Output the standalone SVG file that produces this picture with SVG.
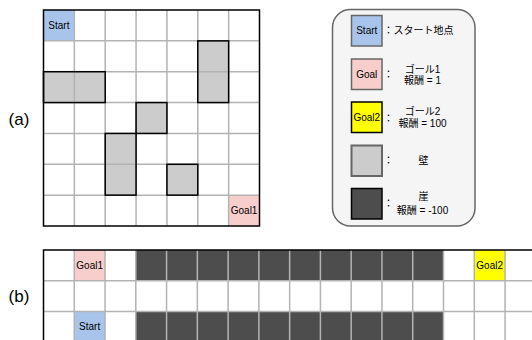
<svg xmlns="http://www.w3.org/2000/svg" width="532" height="340" viewBox="0 0 532 340">
<style>
text{font-family:"Liberation Sans","Noto Sans CJK JP",sans-serif;fill:#000}
.cell{font-size:10px;text-anchor:middle}
.lbl{font-size:17px;text-anchor:middle}
.lg{font-size:10px;text-anchor:middle}
.grid{stroke:#B3B3B3;stroke-width:1.5;fill:none}
.border{stroke:#000;stroke-width:1.5;fill:none}
.wall{fill:#CCCCCC}
.wallb{fill:none;stroke:#000;stroke-width:1.5}
.cliff{fill:#4D4D4D}
</style>
<rect width="532" height="340" fill="#fff"/>

<text class="lbl" x="19" y="125">(a)</text>
<text class="lbl" x="19" y="302">(b)</text>

<g id="gridA">
  <rect x="43.5" y="10" width="216" height="216" fill="#fff"/>
  <g id="a-start"><rect x="43.5" y="10" width="30.86" height="30.86" fill="#A9C4EB"/></g>
  <g id="a-goal1"><rect x="228.64" y="195.14" width="30.86" height="30.86" fill="#F8CECC"/></g>
  <g id="a-walls-fill">
    <rect class="wall" x="197.79" y="40.86" width="30.86" height="61.71"/>
    <rect class="wall" x="43.5" y="71.71" width="61.71" height="30.86"/>
    <rect class="wall" x="136.07" y="102.57" width="30.86" height="30.86"/>
    <rect class="wall" x="105.21" y="133.43" width="30.86" height="61.71"/>
    <rect class="wall" x="166.93" y="164.29" width="30.86" height="30.86"/>
  </g>
  <path class="grid" d="M74.36 10V226M105.21 10V226M136.07 10V226M166.93 10V226M197.79 10V226M228.64 10V226M43.5 40.86H259.5M43.5 71.71H259.5M43.5 102.57H259.5M43.5 133.43H259.5M43.5 164.29H259.5M43.5 195.14H259.5"/>
  <g id="a-walls">
    <rect class="wallb" x="197.79" y="40.86" width="30.86" height="61.71"/>
    <rect class="wallb" x="43.5" y="71.71" width="61.71" height="30.86"/>
    <rect class="wallb" x="136.07" y="102.57" width="30.86" height="30.86"/>
    <rect class="wallb" x="105.21" y="133.43" width="30.86" height="61.71"/>
    <rect class="wallb" x="166.93" y="164.29" width="30.86" height="30.86"/>
  </g>
  <rect class="border" x="43.5" y="10" width="216" height="216"/>
  <text class="cell" x="58.9" y="28.8">Start</text>
  <text class="cell" x="244.1" y="214">Goal1</text>
</g>

<g id="legend">
  <rect x="332.5" y="9.5" width="142.5" height="216.5" rx="18" fill="#F5F5F5" stroke="#666" stroke-width="1.5"/>
  <g id="lg-start">
    <rect x="351.5" y="15.5" width="30.5" height="30.5" fill="#A9C4EB" stroke="#666" stroke-width="1.5"/>
    <text class="lg" x="366.75" y="34.3">Start</text>
    <text x="383.5" y="34.3" font-size="10">：スタート地点</text>
  </g>
  <g id="lg-goal1">
    <rect x="351.5" y="59" width="30.5" height="30.5" fill="#F8CECC" stroke="#666" stroke-width="1.5"/>
    <text class="lg" x="366.75" y="77.8">Goal</text>
    <text x="383.5" y="77.5" font-size="10">：</text>
    <text class="lg" x="422.5" y="72.8">ゴール1</text>
    <text class="lg" x="422.5" y="84.3">報酬 = 1</text>
  </g>
  <g id="lg-goal2">
    <rect x="351.5" y="102" width="30.5" height="30.5" fill="#FFFF00" stroke="#000" stroke-width="1.5"/>
    <text class="lg" x="366.75" y="120.8">Goal2</text>
    <text x="383.5" y="121.5" font-size="10">：</text>
    <text class="lg" x="422.5" y="115.2">ゴール2</text>
    <text class="lg" x="422.5" y="126.8">報酬 = 100</text>
  </g>
  <g id="lg-wall">
    <rect x="351.5" y="145.5" width="30.5" height="30.5" fill="#CCCCCC" stroke="#666" stroke-width="2"/>
    <text x="383.5" y="164" font-size="10">：</text>
    <text class="lg" x="423.5" y="163.5">壁</text>
  </g>
  <g id="lg-cliff">
    <rect x="351.5" y="188.5" width="30.5" height="30.5" fill="#4D4D4D" stroke="#000" stroke-width="1.5"/>
    <text x="383.5" y="207" font-size="10">：</text>
    <text class="lg" x="423.5" y="200.2">崖</text>
    <text class="lg" x="422.5" y="213.5">報酬 = -100</text>
  </g>
</g>

<g id="gridB">
  <rect x="43.5" y="250" width="500" height="100" fill="#fff"/>
  <g id="b-goal1"><rect x="74.27" y="250" width="30.77" height="30.8" fill="#F8CECC"/></g>
  <g id="b-start"><rect x="74.27" y="311.6" width="30.77" height="30.8" fill="#A9C4EB"/></g>
  <g id="b-goal2"><rect x="474.3" y="250" width="30.77" height="30.8" fill="#FFFF00"/></g>
  <g id="b-cliff1"><rect class="cliff" x="135.8" y="250" width="307.7" height="30.8"/></g>
  <g id="b-cliff2"><rect class="cliff" x="135.8" y="311.6" width="307.7" height="30.8"/></g>
  <path class="grid" d="M74.27 250V342M105.04 250V342M135.8 250V342M166.57 250V342M197.34 250V342M228.11 250V342M258.88 250V342M289.65 250V342M320.42 250V342M351.19 250V342M381.96 250V342M412.73 250V342M443.5 250V342M474.3 250V342M505.07 250V342M43.5 280.8H540M43.5 311.6H540"/>
  <path class="border" d="M43.5 342V250H540"/>
  <text class="cell" x="89.65" y="268.8">Goal1</text>
  <text class="cell" x="89.65" y="330.4">Start</text>
  <text class="cell" x="489.7" y="268.8">Goal2</text>
</g>
</svg>
